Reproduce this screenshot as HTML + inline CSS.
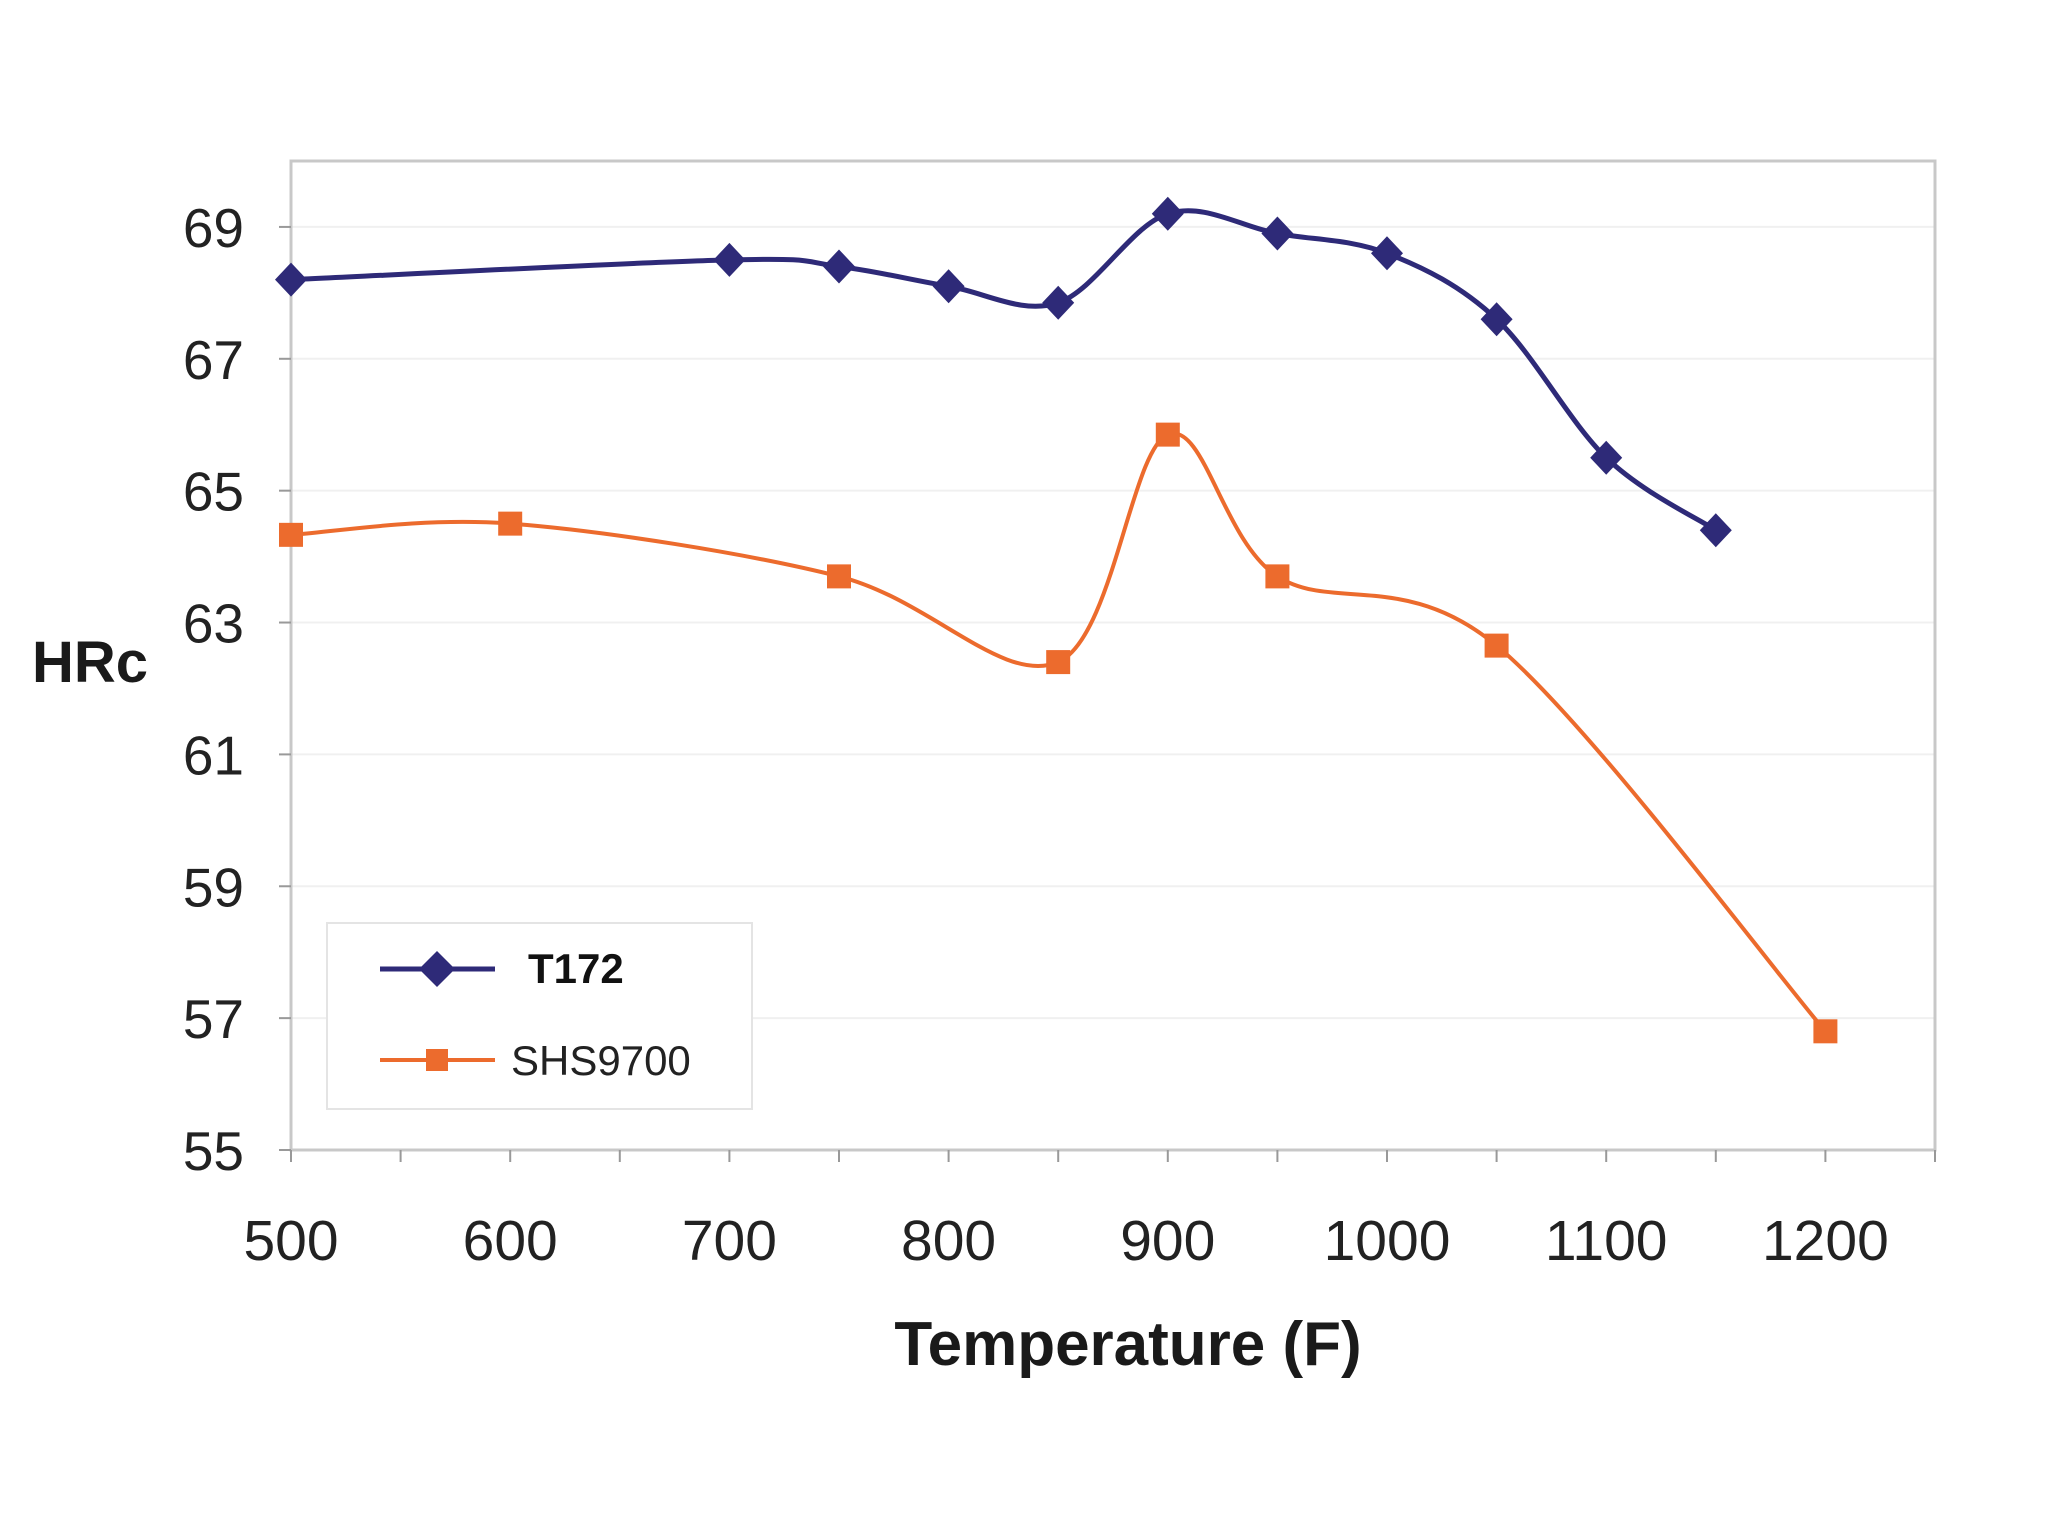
<!DOCTYPE html>
<html><head><meta charset="utf-8"><style>
html,body{margin:0;padding:0;background:#fff;}
svg{display:block;font-family:"Liberation Sans",Arial,sans-serif;}
</style></head><body>
<svg id="chart" width="2048" height="1536" viewBox="0 0 2048 1536" xmlns="http://www.w3.org/2000/svg">
<rect width="2048" height="1536" fill="#fff"/>
<g id="grid"></g>
<rect x="291" y="161" width="1644" height="989" fill="none" stroke="#c8c8c8" stroke-width="3"/>
<g id="axes"></g>
<g id="series"></g>
<text x="90" y="682" font-size="58" font-weight="bold" text-anchor="middle" fill="#1a1a1a">HRc</text>
<text x="1128" y="1385" font-size="62" font-weight="bold" text-anchor="middle" fill="#1a1a1a" transform="translate(0,-20)">Temperature (F)</text>
<g transform="translate(0,-10)">
<rect x="327" y="933" width="425" height="186" fill="#fff" stroke="#e4e4e4" stroke-width="2"/>
<line x1="380" y1="979" x2="495" y2="979" stroke="#2e2a78" stroke-width="5"/>
<polygon points="437,961 455,979 437,997 419,979" fill="#2e2a78"/>
<text x="528" y="993" font-size="42" font-weight="bold" fill="#111">T172</text>
<line x1="380" y1="1070" x2="495" y2="1070" stroke="#ec6b2d" stroke-width="4"/>
<rect x="426" y="1059" width="22" height="22" fill="#ec6b2d"/>
<text x="511" y="1085" font-size="42" fill="#222">SHS9700</text>
</g>
</svg>
<script>
const xTicks=[500,600,700,800,900,1000,1100,1200];
const yTicks=[55,57,59,61,63,65,67,69];
const t172X=[500,700,750,800,850,900,950,1000,1050,1100,1150];
const t172Y=[68.2,68.5,68.4,68.1,67.85,69.2,68.9,68.6,67.6,65.5,64.4];
const shsX=[500,600,750,850,900,950,1050,1200];
const shsY=[64.33,64.5,63.7,62.4,65.85,63.7,62.65,56.8];
const NS="http://www.w3.org/2000/svg";
const L=291,R=1935,T=161,B=1150,X0=500,X1=1250,Y0=55,Y1=70;
const sx=v=>L+(v-X0)/(X1-X0)*(R-L);
const sy=v=>B-(v-Y0)/(Y1-Y0)*(B-T);
function mk(tag,attrs,parent){const e=document.createElementNS(NS,tag);for(const k in attrs)e.setAttribute(k,attrs[k]);parent.appendChild(e);return e;}
const grid=document.getElementById('grid'),axes=document.getElementById('axes'),series=document.getElementById('series');
yTicks.forEach(v=>{
  const g=mk('line',{x1:L,x2:R,y1:sy(v),y2:sy(v),stroke:'#f0f0f0','stroke-width':2},grid);
  
  
  mk('line',{x1:L-12,x2:L,y1:sy(v),y2:sy(v),stroke:'#999','stroke-width':2},axes);
  const t=mk('text',{x:244,y:sy(v)+20,'font-size':55,'text-anchor':'end',fill:'#222'},axes);
  t.textContent=v;
  
  
});
for(let v=500;v<=1250;v+=50){mk('line',{x1:sx(v),x2:sx(v),y1:B,y2:B+12,stroke:'#999','stroke-width':2},axes);}
xTicks.forEach(v=>{
  const t=mk('text',{x:sx(v),y:1260,'font-size':57,'text-anchor':'middle',fill:'#222'},axes);
  t.textContent=v;
  
  
});
function smooth(px,py){
  const p=px.map((x,i)=>[sx(x),sy(py[i])]);
  let d='M'+p[0][0]+','+p[0][1];
  for(let i=0;i<p.length-1;i++){
    const p0=p[i-1]||p[i],p1=p[i],p2=p[i+1],p3=p[i+2]||p2,k=6;
    d+=' C'+(p1[0]+(p2[0]-p0[0])/k)+','+(p1[1]+(p2[1]-p0[1])/k)+' '+(p2[0]-(p3[0]-p1[0])/k)+','+(p2[1]-(p3[1]-p1[1])/k)+' '+p2[0]+','+p2[1];
  }
  return d;
}
const l1=mk('path',{d:smooth(t172X,t172Y),fill:'none',stroke:'#2e2a78','stroke-width':5},series);


const l2=mk('path',{d:smooth(shsX,shsY),fill:'none',stroke:'#ec6b2d','stroke-width':4},series);


t172X.forEach((x,i)=>{
  const cx=sx(x),cy=sy(t172Y[i]);
  const m=mk('polygon',{points:`${cx},${cy-17} ${cx+16},${cy} ${cx},${cy+17} ${cx-16},${cy}`,fill:'#2e2a78'},series);
  
  
});
shsX.forEach((x,i)=>{
  const m=mk('rect',{x:sx(x)-12,y:sy(shsY[i])-12,width:24,height:24,fill:'#ec6b2d'},series);
  
  
});
</script>
</body></html>
